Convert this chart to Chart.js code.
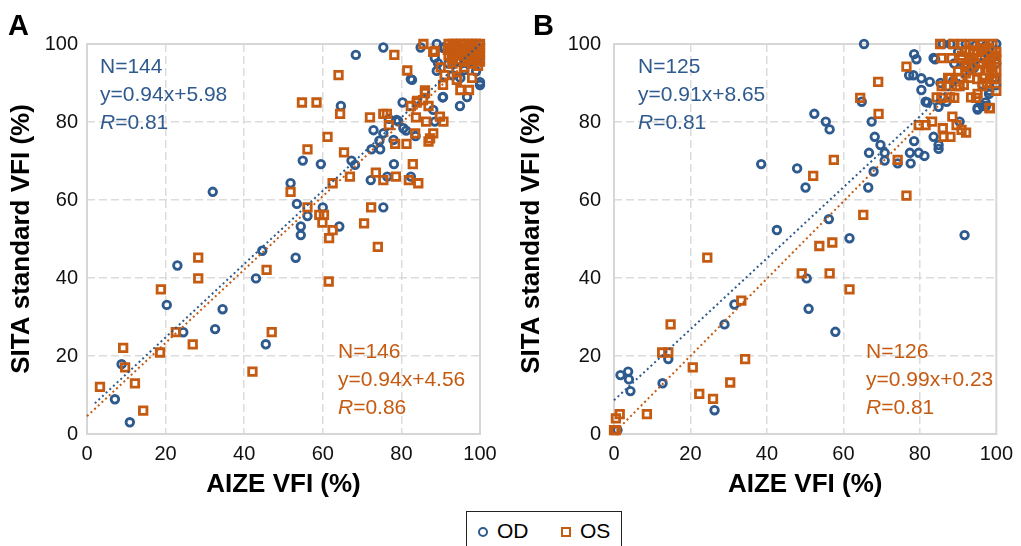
<!DOCTYPE html>
<html>
<head>
<meta charset="utf-8">
<script src="https://cdn.jsdelivr.net/npm/chart.js@4"></script>
<style>
  body { margin: 0; background: #fff; font-family: "Liberation Sans", Arial, sans-serif; }
  #wrap { position: relative; width: 1021px; height: 546px; overflow: hidden; }
  canvas { position: absolute; top: 0; }
  #legend { position: absolute; left: 466px; top: 511px; width: 156px; height: 50px; border: 1px solid #222; box-sizing: border-box; }
  #legend .mk { position: absolute; box-sizing: border-box; }
  #legend .lb { position: absolute; top: 7px; font-size: 21px; color: #000; line-height: 24px; }
</style>
</head>
<body>
<div id="wrap">
  <canvas id="chartA" width="510" height="500" style="left:0"></canvas>
  <canvas id="chartB" width="511" height="500" style="left:510px"></canvas>
  <div id="legend">
    <span class="mk" style="left:11px;top:15px;width:10px;height:10px;border:2.7px solid #2E5A8E;border-radius:50%"></span>
    <span class="lb" style="left:30px">OD</span>
    <span class="mk" style="left:94px;top:15px;width:10px;height:10px;border:2.7px solid #C55A11"></span>
    <span class="lb" style="left:113px">OS</span>
  </div>
</div>
<script>
// ---- colours ----
const BLUE = '#2E5A8E';
const ORANGE = '#C55A11';

// ---- axis ticks ----
const tickValues = [0, 20, 40, 60, 80, 100];

// ---- regression stats [OD, OS] ----
const aN = [144, 146], aSlope = [0.94, 0.94], aIntercept = [5.98, 4.56], aR = [0.81, 0.86];
const bN = [125, 126], bSlope = [0.91, 0.99], bIntercept = [8.65, 0.23], bR = [0.81, 0.81];
// x range of the trend lines [from, to]
const aFitRange = [[2, 100], [0, 100]];
const bFitRange = [[0, 100], [1.5, 100]];

// ---- panel A points [AIZE VFI, SITA VFI] ----
const aOD = [
  [68.4,97.2],[75.4,99.1],[84.9,99.1],[89,100],[91,99.1],[82.4,91],[89,93.1],[90.5,86.3],[94.9,84.1],[100,90.2],
  [64.6,84.1],[80.3,85],[78.8,80.5],[76.8,80.8],[72.9,77.9],[75.4,77.1],[80.5,78.4],[81.2,77.8],[83.6,76.4],[78,75.4],
  [74.4,75.2],[72.4,73],[74.6,73],[88.1,83.1],[88.5,80.1],[54.9,70.1],[59.5,69.2],[67.3,70.1],[68.2,69],[78.1,69.2],
  [72.2,65.1],[76.4,66],[82.4,66],[32,62.1],[51.8,64.3],[53.4,59],[60,58.1],[75.4,58.1],[56.1,55.9],[54.4,53.2],
  [54.4,51],[64.2,53.2],[44.6,47],[53.1,45.2],[23,43.2],[43,39.9],[20.3,33.1],[34.5,32],[32.6,26.9],[24.5,26.1],
  [45.5,23],[8.8,17.9],[7.1,8.9],[10.9,3],[79.2,80.2],[90.7,99.1],
  [90.6,99],[88.5,96.4],[89.3,95.1],[96,93.3],[99,93],[95,91.3],[90.6,86.4],[96.7,86.4],[100,89.5],[82.7,90.8],
  [93,97],[95,98],[97,99],[98,100],[99,98],[100,97],[94,100],[96,100],[92,95],[97,95],[100,100],[93,92]
];
const aOS = [
  [85.6,100],[88.1,98],[78.2,97.2],[64,92],[81.5,93.2],[54.7,85],[58.4,85],[64.4,82.1],[72,81.2],[75.4,82.1],
  [76.3,82.1],[76.8,79.2],[82.4,84.1],[83.9,85],[86,88.1],[86.9,84.1],[83.7,81.2],[86.3,80.1],[89.8,81.4],[90.7,80.1],
  [83.5,77.1],[88.1,77.1],[87.3,75.8],[86.9,75],[78.4,74.4],[81.3,74.4],[61.2,76.2],[56.1,73],[65.4,72.2],[82.9,69.2],
  [66.9,66],[73.5,67],[75.4,65.1],[78.6,66],[81.9,65.1],[84.3,64.3],[62.5,64.3],[51.8,62.1],[56.1,58.1],[59.1,56.2],
  [60.3,56.2],[59.9,54.2],[62.5,52.3],[61.6,50.2],[72.3,58.1],[70.5,54],[74,48],[28.3,45.2],[45.7,42.1],[28.3,39.9],
  [61.5,39.1],[18.8,37.1],[22.6,26.1],[47,26.1],[26.9,23],[18.6,20.9],[9.2,22.1],[9.7,17.1],[12.2,13],[3.3,12.1],
  [14.3,6],[42.1,16],
  [88.5,98.2],[90.6,89.5],[91,92],[90,94],[93,95],[99.5,94.4],[94.1,90.8],[98,91.3],[95,88.2],[97.2,88.2],
  [86,87.4],[85.5,85.6],[84,85.4],
  [92,100],[94,100],[96,100],[98,100],[100,100],[93,98.5],[95,98.5],[97,98.5],[99,98.5],[92,97],
  [94,97],[96,97],[98,97],[100,97.5],[93,96],[95,95.5],[97,96],[99,96],[100,99],[96,94],[94,93.5],[98,95],
  [92.5,99],[93.5,99.5],[94.5,98],[95.5,99],[96.5,98],[97.5,99.5],[98.5,97.5],[99.5,99],[93,97.5],[94.5,96],
  [96,95.5],[97.5,97],[99,96.8],[92.8,96.5],[95.2,97.2],[98.2,98.8],[99.6,97.8],[91.8,98.5],[95,100],[97,100],
  [99,100],[93,100],[96.5,96.5],[98.5,96],[100,95.5]
];

// ---- panel B points ----
const bOD = [
  [65.4,100],[78.5,97.4],[79.1,96.1],[84,96.1],[78.3,92],[80.4,91.2],[82.6,90.3],[80.4,88.2],[81.5,85.2],[82,85],
  [64.8,85.2],[52.4,82.1],[55.4,80.1],[56.4,78.1],[67.4,80.1],[68.2,76.2],[69.7,74.1],[70.8,72.1],[66.7,72.1],[70.8,70.1],
  [74.2,69.4],[77.6,69.4],[77.4,72.1],[79.7,72.1],[81.2,71.3],[78.5,75.1],[83.6,76.2],[84.9,74.1],[84.9,73.1],[84.9,83.9],
  [87,85.2],[90.4,80.1],[91.7,51],[95.1,83.2],[97.3,84.1],[98.1,87.2],[99.8,91.2],[38.5,69.2],[47.9,68.1],[50.1,63.2],
  [67.9,67.3],[66.5,63.2],[56.2,55.1],[42.6,52.3],[61.6,50.2],[50.4,39.9],[50.9,32.1],[57.9,26.2],[31.5,33.2],[28.9,28.1],
  [14.2,19.2],[12.7,13],[1.7,15.1],[3.7,16],[3.9,14],[4.3,11],[26.3,6.1],[0.9,1],
  [83.6,96.4],[77.2,92],[85.4,90],[92,100],[94.6,99.7],[97.2,99.5],[91.6,94.6],[94.1,93.8],[96.4,89.5],[98.2,88],
  [100,89.5],[95.1,83.6],[96.4,84.1],[97.2,85],[88.7,90.5],[86,100],[88,100],[90,98],[100,100],[99,97],[100,95],[93,96],[89,95]
];
const bOS = [
  [85.3,100],[88.7,100],[76.5,94.2],[69.1,90.3],[64.4,86.2],[69.2,82.1],[85.7,89.2],[87.9,91.2],[87.9,86.3],[84.4,86.3],
  [90.4,89.2],[93.4,86.3],[95.1,87.2],[98.3,83.5],[79.7,79.2],[81.5,79.2],[83.2,80.1],[88.5,81.4],[86,78.4],[86.2,76.2],
  [88,76.2],[89.6,79.2],[90.9,78],[92.1,77.3],[74.2,70.3],[57.5,70.3],[52.1,66.2],[76.5,61.1],[65.2,56.2],[53.7,48.2],
  [57.1,49.1],[24.4,45.2],[49.1,41.2],[56.4,41.2],[61.6,37.1],[33.3,34.2],[14.8,28.1],[12.6,20.9],[14.2,20.9],[20.6,17.1],
  [34.3,19.2],[30.4,13.2],[22.3,10.3],[25.9,9],[8.6,5.1],[1.5,5.1],[0.5,4],[0,1],[0.5,1],
  [93.8,100],[96.4,100],[99,100],[85.7,96.4],[88.3,96.4],[90.9,96.4],[93.4,96.4],[96,96.4],[98.6,96.4],[95.2,93.3],
  [97.7,93.3],[100,93.3],[87.4,91.3],[90.5,91.3],[93.1,91.3],[96.4,91.3],[87,89.2],[89.6,89.2],[96.4,89.2],[85.6,86.2],
  [89,86.2],[94.7,86.2],[98.2,83.6],
  [91,100],[95,98],[97,98],[99,98],[92,98],[100,98],[94,94.5],[98,95],[100,96],[92,94],[99,91],[100,88],
  [91,97],[92.5,95],[94,97.5],[95.5,95],[97,97],[98.5,94],[99.5,97],[90,93],[92,92.5],[95,91],
  [97.5,90],[99,92.5],[93,98.5],[96.5,98.8],[98,99],[100,91],[91.5,89.5]
];

const FONT = '"Liberation Sans", Arial, sans-serif';

// frame + panel letter + N / equation / R text
const panelPlugin = {
  id: 'panel',
  beforeDatasetsDraw(chart, args, o) {
    const { ctx, chartArea: a } = chart;
    ctx.save();
    ctx.strokeStyle = '#d6d6d6';
    ctx.lineWidth = 2;
    ctx.strokeRect(a.left, a.top, a.right - a.left, a.bottom - a.top);
    ctx.restore();
  },
  afterDraw(chart, args, o) {
    const { ctx, chartArea: a } = chart;
    ctx.save();
    ctx.fillStyle = '#000';
    ctx.font = 'bold 29px ' + FONT;
    ctx.textBaseline = 'alphabetic';
    ctx.fillText(o.letter, o.letterX, 35);
    ctx.textBaseline = 'middle';
    o.notes.forEach(n => {
      const x = a.left + n.dx;
      let y = a.top + n.dy;
      ctx.fillStyle = n.color;
      ctx.font = '21px ' + FONT;
      ctx.fillText('N=' + n.n, x, y);
      y += 28;
      ctx.fillText('y=' + n.slope.toFixed(2) + 'x+' + n.intercept.toFixed(2), x, y);
      y += 28;
      ctx.font = 'italic 21px ' + FONT;
      ctx.fillText('R', x, y);
      const w = ctx.measureText('R').width;
      ctx.font = '21px ' + FONT;
      ctx.fillText('=' + n.r.toFixed(2), x + w, y);
    });
    ctx.restore();
  }
};

function trend(slope, intercept, range) {
  return range.map(x => ({ x: x, y: slope * x + intercept }));
}

function toPts(arr) { return arr.map(p => ({ x: p[0], y: p[1] })); }

function makePanel(id, od, os, N, slope, intercept, R, fitRange, o) {
  const axisBase = {
    type: 'linear', min: 0, max: 100,
    afterBuildTicks: s => { s.ticks = tickValues.map(v => ({ value: v })); },
    grid: {
      drawTicks: false,
      lineWidth: 1.5,
      color: c => (c.tick && (c.tick.value === 0 || c.tick.value === 100)) ? 'rgba(0,0,0,0)' : '#dcdcdc'
    },
    border: { display: false, dash: [8, 4] },
    ticks: { color: '#111', font: { family: FONT, size: 20 } }
  };
  return new Chart(document.getElementById(id), {
    type: 'scatter',
    data: {
      datasets: [
        { type: 'line', showLine: true, data: trend(slope[0], intercept[0], fitRange[0]), borderColor: BLUE, borderWidth: 2, borderDash: [2, 3], pointRadius: 0, order: 0, clip: false },
        { type: 'line', showLine: true, data: trend(slope[1], intercept[1], fitRange[1]), borderColor: ORANGE, borderWidth: 2, borderDash: [2, 3], pointRadius: 0, order: 0, clip: false },
        { label: 'OS', data: toPts(os), pointStyle: 'rect', pointRadius: 5.3, borderWidth: 2.8, borderColor: ORANGE, backgroundColor: 'rgba(0,0,0,0)', order: 1, clip: false },
        { label: 'OD', data: toPts(od), pointStyle: 'circle', pointRadius: 3.8, borderWidth: 2.8, borderColor: BLUE, backgroundColor: 'rgba(0,0,0,0)', order: 2, clip: false }
      ]
    },
    options: {
      responsive: false,
      animation: false,
      devicePixelRatio: 1,
      layout: { padding: { top: 44, right: o.padRight, left: 0, bottom: 0 } },
      plugins: {
        legend: { display: false },
        tooltip: { enabled: false },
        panel: {
          letter: o.letter, letterX: o.letterX,
          notes: [
            { n: N[0], slope: slope[0], intercept: intercept[0], r: R[0], color: BLUE, dx: o.topDx, dy: 23 },
            { n: N[1], slope: slope[1], intercept: intercept[1], r: R[1], color: ORANGE, dx: o.botDx, dy: 308 }
          ]
        }
      },
      scales: {
        x: Object.assign({}, axisBase, {
          afterFit: s => { s.height = 66; },
          ticks: Object.assign({}, axisBase.ticks, { padding: 8, maxRotation: 0 }),
          title: { display: true, text: 'AIZE VFI (%)', color: '#000', font: { family: FONT, size: 26, weight: 'bold' }, padding: { top: 0, bottom: 0 } }
        }),
        y: Object.assign({}, axisBase, {
          afterFit: s => { s.width = o.axisW; },
          ticks: Object.assign({}, axisBase.ticks, { padding: o.tickPad }),
          title: { display: true, text: 'SITA standard VFI (%)', color: '#000', font: { family: FONT, size: 26, weight: 'bold' }, padding: { top: 6, bottom: 0 } }
        })
      }
    },
    plugins: [panelPlugin]
  });
}

makePanel('chartA', aOD, aOS, aN, aSlope, aIntercept, aR, aFitRange,
  { letter: 'A', letterX: 8, axisW: 87, padRight: 30, tickPad: 9, topDx: 13, botDx: 251 });
makePanel('chartB', bOD, bOS, bN, bSlope, bIntercept, bR, bFitRange,
  { letter: 'B', letterX: 23, axisW: 104, padRight: 17, tickPad: 13, topDx: 24, botDx: 252 });
</script>
</body>
</html>
